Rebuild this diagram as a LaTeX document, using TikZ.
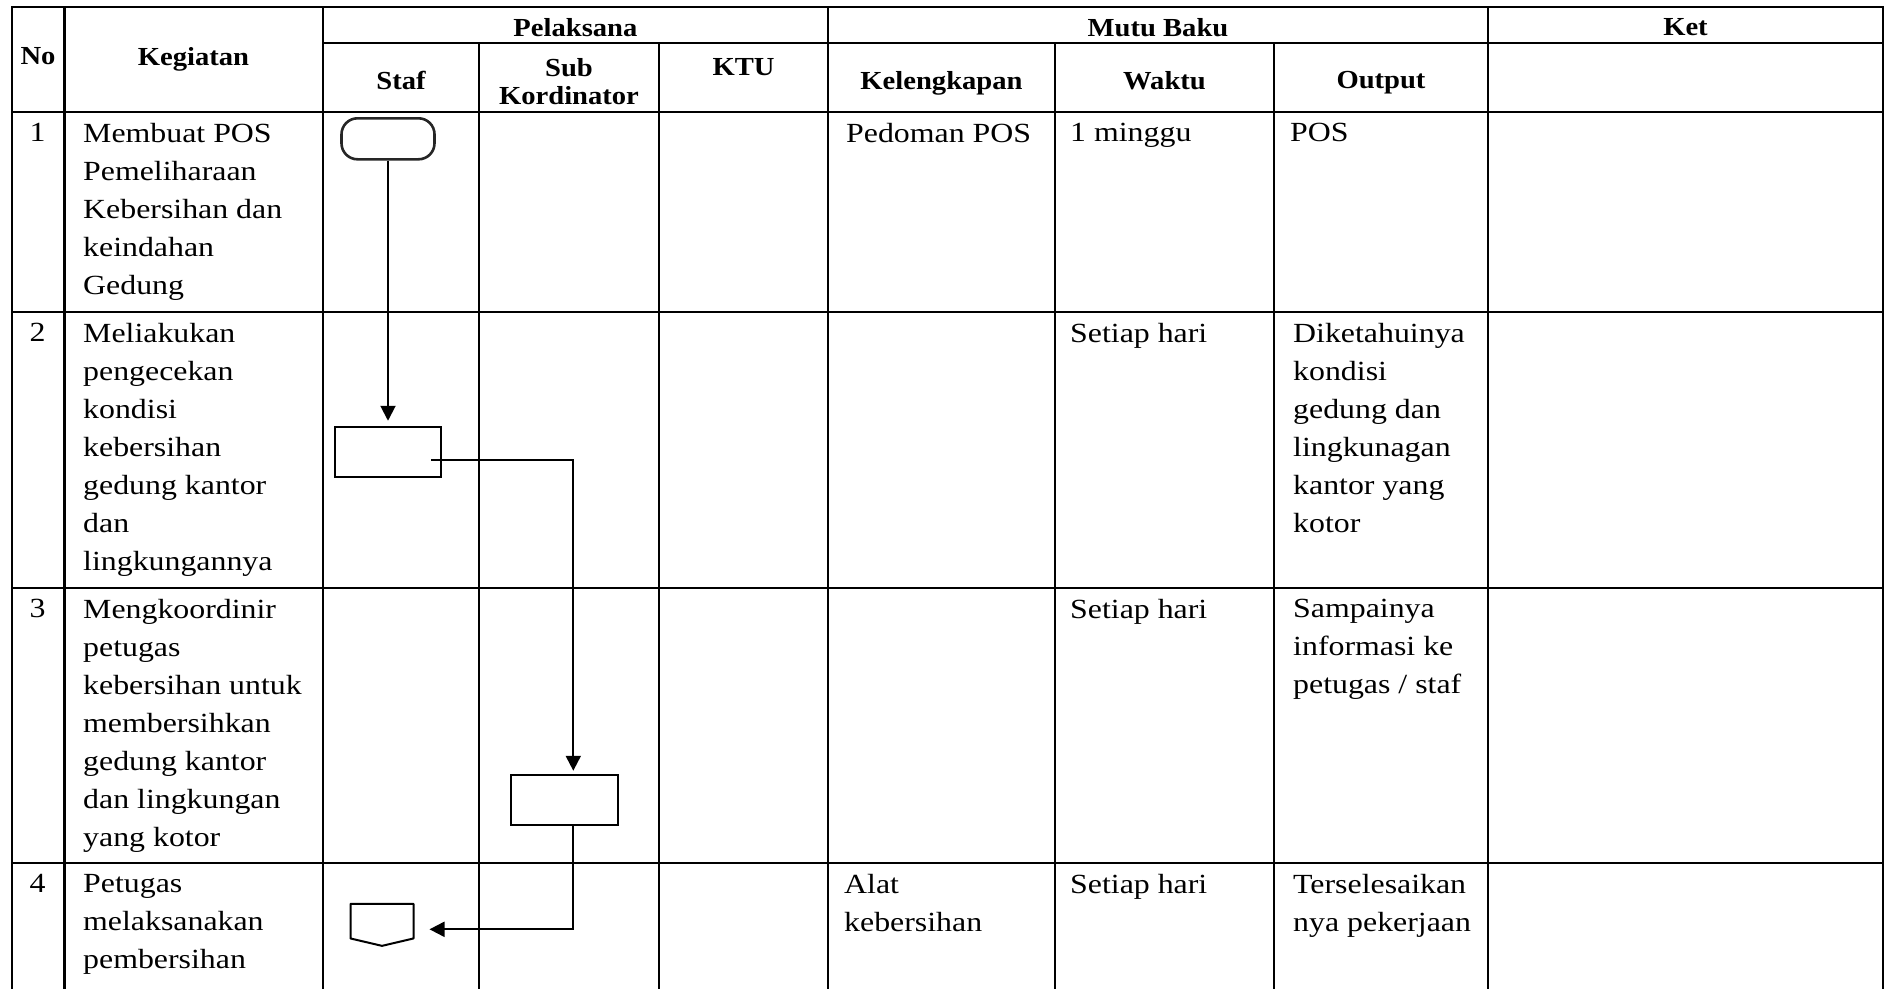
\documentclass[tikz,border=0pt]{standalone}
\usepackage{fontspec}
\usetikzlibrary{arrows.meta}
\setmainfont[FakeStretch=1.15]{Liberation Serif}
\newfontfamily\hdfamily[FakeStretch=1.1]{Liberation Serif}
\newcommand\cellfont{\fontsize{27.7}{38}\selectfont}
\newcommand\hdfont{\hdfamily\bfseries\fontsize{26}{27.5}\selectfont}

\begin{document}
\begin{tikzpicture}[x=1pt, y=-1pt,
    tabline/.style={line width=2.4pt, line cap=rect},
    cell/.style={anchor=north west, inner sep=0pt, align=left, font=\cellfont},
    num/.style={anchor=north, inner sep=0pt, font=\cellfont},
    head/.style={anchor=north, inner sep=0pt, align=center, font=\hdfont},
    terminal/.style={rectangle, draw=black!85, line width=2.6pt, rounded corners=16pt, minimum width=93pt, minimum height=41pt, inner sep=0pt},
    procbox/.style={rectangle, draw=black, line width=2pt, minimum width=106.7pt, minimum height=50.5pt, inner sep=0pt},
    flow/.style={line width=2pt, -{Triangle[length=15pt, width=15pt]}}]
                            \useasboundingbox (0, 0) rectangle (1884, 988);

                            \draw [tabline] (11.7, 6.7) -- (1883.3, 6.7);
                            \draw [tabline] (322.7, 42.7) -- (1883.3, 42.7);
                            \draw [tabline] (11.7, 111.7) -- (1883.3, 111.7);
                            \draw [tabline] (11.7, 312) -- (1883.3, 312);
                            \draw [tabline] (11.7, 587.7) -- (1883.3, 587.7);
                            \draw [tabline] (11.7, 862.7) -- (1883.3, 862.7);
                            \draw [tabline] (11.7, 6.7) -- (11.7, 990);
                            \draw [tabline] (64.3, 6.7) -- (64.3, 990);
                            \draw [tabline] (322.7, 6.7) -- (322.7, 990);
                            \draw [tabline] (479, 42.7) -- (479, 990);
                            \draw [tabline] (659, 42.7) -- (659, 990);
                            \draw [tabline] (828, 6.7) -- (828, 990);
                            \draw [tabline] (1055, 42.7) -- (1055, 990);
                            \draw [tabline] (1274, 42.7) -- (1274, 990);
                            \draw [tabline] (1487.7, 6.7) -- (1487.7, 990);
                            \draw [tabline] (1883.3, 6.7) -- (1883.3, 990);

                            \node (hPel)[head] at (575.4, 18.2) {Pelaksana};
                            \node (hMutu)[head] at (1158, 18.2) {Mutu Baku};
                            \node (hKet)[head] at (1685.5, 18.2) {Ket};
                            \node (hNo)[head] at (38, 47.5) {No};
                            \node (hKeg)[head] at (193.5, 47.5) {Kegiatan};
                            \node (hStaf)[head] at (401, 70.8) {Staf};
                            \node (hSub)[head] at (569, 58.5) {Sub\\Kordinator};
                            \node (hKTU)[head] at (743.5, 58.5) {KTU};
                            \node (hKel)[head] at (941.5, 70.8) {Kelengkapan};
                            \node (hWak)[head] at (1164.5, 70.8) {Waktu};
                            \node (hOut)[head] at (1381, 70.8) {Output};

                            \node (no1)[num] at (37.5, 122.8) {1};
                            \node (keg1)[cell] at (83, 122.8) {Membuat POS\\Pemeliharaan\\Kebersihan dan\\keindahan\\Gedung};
                            \node (kel1)[cell] at (846, 122.8) {Pedoman POS};
                            \node (wak1)[cell] at (1070, 122.8) {1 minggu};
                            \node (out1)[cell] at (1290, 122.8) {POS};

                            \node (no2)[num] at (37.5, 323.1) {2};
                            \node (keg2)[cell] at (83, 323.1) {Meliakukan\\pengecekan\\kondisi\\kebersihan\\gedung kantor\\dan\\lingkungannya};
                            \node (wak2)[cell] at (1070, 323.1) {Setiap hari};
                            \node (out2)[cell] at (1293, 323.1) {Diketahuinya\\kondisi\\gedung dan\\lingkunagan\\kantor yang\\kotor};

                            \node (no3)[num] at (37.5, 598.8) {3};
                            \node (keg3)[cell] at (83, 598.8) {Mengkoordinir\\petugas\\kebersihan untuk\\membersihkan\\gedung kantor\\dan lingkungan\\yang kotor};
                            \node (wak3)[cell] at (1070, 598.8) {Setiap hari};
                            \node (out3)[cell] at (1293, 598.8) {Sampainya\\informasi ke\\petugas / staf};

                            \node (no4)[num] at (37.5, 873.8) {4};
                            \node (keg4)[cell] at (83, 873.8) {Petugas\\melaksanakan\\pembersihan};
                            \node (kel4)[cell] at (844, 873.8) {Alat\\kebersihan};
                            \node (wak4)[cell] at (1070, 873.8) {Setiap hari};
                            \node (out4)[cell] at (1293, 873.8) {Terselesaikan\\nya pekerjaan};

                            \node (start)[terminal] at (388, 138.8) {};
                            \node (proc1)[procbox] at (388, 452) {};
                            \node (proc2)[procbox] at (564.3, 800) {};
                            \node (opc)[rectangle, inner sep=0pt, minimum width=62.6pt, minimum height=41.7pt] at (382, 924.8) {};
                            \draw [line width=2pt, line join=round] (opc.north west) -- (opc.north east) -- ([yshift=7.4pt]opc.south east) -- (opc.south) -- ([yshift=7.4pt]opc.south west) -- cycle;

                            \draw [flow, shorten >=5pt] (start) -- (proc1);
                            \draw [flow, shorten >=3pt] ([xshift=-11pt, yshift=-8pt]proc1.east) -| ([xshift=9pt]proc2.north);
                            \draw [flow] ([xshift=9pt]proc2.south) |- ([xshift=16pt, yshift=-4.5pt]opc.east);
                        \end{tikzpicture}
\end{document}
